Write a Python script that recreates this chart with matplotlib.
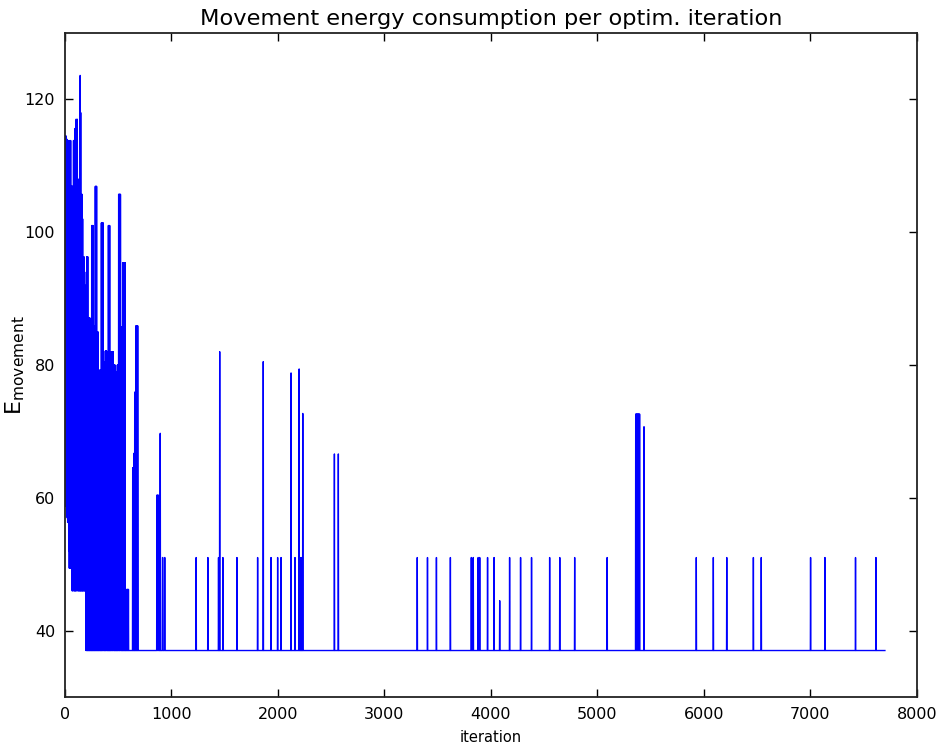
import numpy as np
import matplotlib
matplotlib.use("Agg")
import matplotlib.pyplot as plt

plt.rcParams['font.family'] = ['DejaVu Sans']

# number of optimisation iterations
n_iter = 7700
base_val = 37.0

# first ~200 iterations: value held from each change point until the next one
early_iter = [0, 3, 5, 7, 9, 11, 13, 14, 17, 19, 22, 24, 27, 29, 32, 34, 37, 39,
              42, 44, 47, 49, 52, 55, 58, 60, 63, 66, 69, 71, 74, 76, 79, 82, 85,
              87, 91, 94, 97, 99, 103, 106, 109, 111, 114, 117, 120, 122, 125, 128,
              130, 134, 136, 141, 144, 147, 149, 152, 154, 159, 162, 165, 167, 170,
              172, 178, 181, 184, 186, 190, 192]
early_val = [114.5, 58.7, 112, 60, 114.5, 62, 100, 58.7, 114, 57, 113.8, 56.3, 108, 56.3,
             113.8, 52, 100, 49.4, 113.8, 50, 95, 49.4, 113.8, 49.4, 88, 49.4, 107, 46,
             104, 46, 90, 49, 113.8, 46, 113.8, 46, 115.6, 46, 111, 46, 117, 46, 105, 48,
             117, 46, 97, 108, 46, 104, 46, 95, 46, 123.6, 46, 118, 46, 103, 46, 105.7,
             46, 102, 46, 90, 46, 96.3, 46, 94, 46, 80, 46]

# iterations ~195-690: rapid jumps between the baseline and the block's top value
block_iter = [195, 205, 216, 235, 250, 265, 284, 300, 310, 318, 341, 359, 378, 392,
              407, 422, 435, 453, 472, 491, 504, 522, 541, 566, 579, 598, 635, 647,
              654, 666, 685]
block_top = [92, 96.3, 87.1, 84, 101, 85.9, 106.9, 85, 37, 79.2, 101.4, 80.5, 82.1, 82,
             101, 80, 82, 80, 79, 80, 105.7, 85.7, 95.4, 37, 46.2, 37, 64.5, 66.7,
             75.9, 85.9, 37]

# later isolated peaks above the baseline: start iteration, length, value
spike_iter = [862, 872, 893, 915, 935, 1231, 1341, 1441, 1452, 1482, 1614, 1808,
              1861, 1934, 1996, 2028, 2122, 2159, 2198, 2210, 2220, 2232, 2529, 2566,
              3307, 3403, 3487, 3618, 3814, 3832, 3878, 3893, 3967, 4028, 4081, 4174,
              4277, 4380, 4550, 4645, 4785, 5090, 5358, 5364, 5370, 5376, 5382, 5388,
              5394, 5436, 5927, 6087, 6213, 6463, 6537, 7000, 7135, 7422, 7614]
spike_len = [6, 6, 3, 4, 4, 2, 2, 2, 2, 2, 2, 2,
             2, 2, 2, 2, 2, 2, 2, 2, 2, 2, 2, 2,
             2, 2, 2, 2, 3, 3, 3, 3, 2, 2, 2, 2,
             2, 2, 2, 2, 2, 2, 3, 3, 3, 3, 3, 3,
             3, 2, 2, 2, 2, 2, 2, 2, 2, 2, 2]
spike_val = [60.4, 60.4, 69.7, 51, 51, 51, 51, 51, 82, 51, 51, 51,
             80.5, 51, 51, 51, 78.8, 51, 79.4, 51, 51, 72.7, 66.6, 66.6,
             51, 51, 51, 51, 51, 51, 51, 51, 51, 51, 44.5, 51,
             51, 51, 51, 51, 51, 51, 72.6, 72.6, 72.6, 72.6, 72.6, 72.6,
             72.6, 70.7, 51, 51, 51, 51, 51, 51, 51, 51, 51]

energy = np.full(n_iter, base_val)
ends = early_iter[1:] + [block_iter[0]]
for s, e, v in zip(early_iter, ends, early_val):
    energy[s:e] = v
ends = block_iter[1:] + [block_iter[-1]]
for s, e, v in zip(block_iter, ends, block_top):
    for t in range(s, e, 4):
        energy[t:t + 2] = v
for s, l, v in zip(spike_iter, spike_len, spike_val):
    energy[s:s + l] = v
iters = np.arange(n_iter)

fig = plt.figure(figsize=(9.4, 7.51), dpi=100)
ax = fig.add_axes([0.0691, 0.0719, 0.9064, 0.8842])
ax.plot(iters, energy, color='b', linewidth=1.0)

ax.set_xlim(0, 8000)
ax.set_ylim(30, 130)
ax.set_xticks(range(0, 8001, 1000))
ax.set_yticks([40, 60, 80, 100, 120])
ax.tick_params(direction='in', length=6, width=1, top=True, right=True,
               labelsize=11.5, pad=7)
for sp in ax.spines.values():
    sp.set_linewidth(1.3)
    sp.set_color('#222222')

ax.set_title("Movement energy consumption per optim. iteration", fontsize=16.2, pad=6)
ax.set_xlabel("iteration", fontsize=10.5, labelpad=6)
ax.set_ylabel(r"E$_{\mathrm{movement}}$", fontsize=16)
ax.yaxis.set_label_coords(-0.045, 0.5)

fig.savefig("out.png", dpi=100)
